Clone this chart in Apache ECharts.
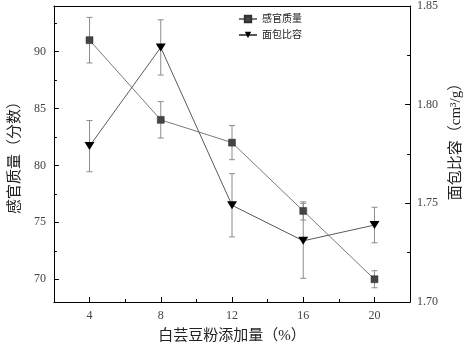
<!DOCTYPE html>
<html>
<head>
<meta charset="utf-8">
<script src="https://cdn.jsdelivr.net/npm/echarts@6/dist/echarts.min.js"></script>
<style>
  html, body { margin: 0; padding: 0; background: #fff; }
  #main { width: 472px; height: 349px; }
</style>
</head>
<body>
<div id="main"></div>
<script>
// white kidney bean flour addition (%)
const additions = [4, 8, 12, 16, 20];
const sensoryScore = [91, 84, 82, 76, 70];
const sensoryErr = [2, 1.6, 1.5, 0.8, 0.75];
const specificVolume = [1.779, 1.829, 1.749, 1.731, 1.739];
const volumeErr = [0.013, 0.014, 0.016, 0.019, 0.009];

const xMajor = [4, 8, 12, 16, 20];
const xMinor = [6, 10, 14, 18];
const leftMajor = [70, 75, 80, 85, 90];
const leftMinor = [72.5, 77.5, 82.5, 87.5, 92.5];
const rightMajor = [1.7, 1.75, 1.8, 1.85];
const rightMinor = [1.725, 1.775, 1.825];

const serif = "'Liberation Serif', 'Noto Sans CJK SC', serif";

const chart = echarts.init(document.getElementById("main"));

const pair = (xs, ys) => xs.map((x, i) => [x, ys[i]]);
const errData = (xs, ys, es) => xs.map((x, i) => [x, ys[i] - es[i], ys[i] + es[i]]);

function renderErr(params, api) {
  const x = api.value(0);
  const top = api.coord([x, api.value(2)]);
  const bot = api.coord([x, api.value(1)]);
  const cap = 3;
  const style = { stroke: "#8c8c8c", lineWidth: 1 };
  return {
    type: "group",
    children: [
      { type: "line", shape: { x1: top[0], y1: top[1], x2: bot[0], y2: bot[1] }, style },
      { type: "line", shape: { x1: top[0] - cap, y1: top[1], x2: top[0] + cap, y2: top[1] }, style },
      { type: "line", shape: { x1: bot[0] - cap, y1: bot[1], x2: bot[0] + cap, y2: bot[1] }, style },
    ],
  };
}

const tri = "path://M0,0 L10,0 L5,8 Z";
const black = { color: "#000", width: 1 };
const tickLabel = { color: "#444", fontSize: 12, fontFamily: serif };
const nameStyle = { fontFamily: serif, fontSize: 15, color: "#222" };

const option = {
  animation: false,
  textStyle: { fontFamily: serif },
  grid: { left: 43, right: 56, top: 5, bottom: 43 },
  legend: {
    orient: "vertical",
    left: 233,
    top: 9,
    itemWidth: 18,
    itemHeight: 8,
    itemGap: 6,
    textStyle: { fontFamily: serif, fontSize: 10, color: "#222" },
    data: ["感官质量", "面包比容"],
  },
  xAxis: [
    {
      type: "value",
      min: 2,
      max: 22,
      position: "bottom",
      name: "白芸豆粉添加量（%）",
      nameLocation: "middle",
      nameGap: 27,
      nameTextStyle: nameStyle,
      axisLine: { lineStyle: black },
      axisTick: { inside: true, length: 5, lineStyle: black, customValues: xMajor },
      axisLabel: { ...tickLabel, customValues: xMajor, margin: 8 },
      splitLine: { show: false },
    },
    {
      type: "value",
      min: 2,
      max: 22,
      position: "bottom",
      axisLine: { show: false },
      axisTick: { inside: true, length: 3, lineStyle: black, customValues: xMinor },
      axisLabel: { show: false },
      splitLine: { show: false },
    },
    {
      type: "value",
      min: 2,
      max: 22,
      position: "top",
      axisLine: { lineStyle: black },
      axisTick: { show: false },
      axisLabel: { show: false },
      splitLine: { show: false },
    },
  ],
  yAxis: [
    {
      type: "value",
      min: 68,
      max: 94,
      position: "left",
      name: "感官质量（分数）",
      nameLocation: "middle",
      nameRotate: 90,
      nameGap: 24,
      nameTextStyle: nameStyle,
      axisLine: { lineStyle: black },
      axisTick: { inside: true, length: 5, lineStyle: black, customValues: leftMajor },
      axisLabel: { ...tickLabel, customValues: leftMajor, margin: 8 },
      splitLine: { show: false },
    },
    {
      type: "value",
      min: 1.7,
      max: 1.85,
      position: "right",
      name: "面包比容（cm³/g）",
      nameLocation: "middle",
      nameRotate: 90,
      nameGap: 37,
      nameTextStyle: { ...nameStyle, padding: [0, 0, 0, 32] },
      axisLine: { lineStyle: black },
      axisTick: { inside: true, length: 5, lineStyle: black, customValues: rightMajor },
      axisLabel: {
        ...tickLabel,
        customValues: rightMajor,
        margin: 7,
        formatter: (v) => v.toFixed(2),
      },
      splitLine: { show: false },
    },
    {
      type: "value",
      min: 68,
      max: 94,
      position: "left",
      axisLine: { show: false },
      axisTick: { inside: true, length: 3, lineStyle: black, customValues: leftMinor },
      axisLabel: { show: false },
      splitLine: { show: false },
    },
    {
      type: "value",
      min: 1.7,
      max: 1.85,
      position: "right",
      axisLine: { show: false },
      axisTick: { inside: true, length: 3, lineStyle: black, customValues: rightMinor },
      axisLabel: { show: false },
      splitLine: { show: false },
    },
  ],
  series: [
    {
      type: "custom",
      name: "感官质量误差",
      xAxisIndex: 0,
      yAxisIndex: 0,
      renderItem: renderErr,
      encode: { x: 0, y: [1, 2] },
      data: errData(additions, sensoryScore, sensoryErr),
      z: 1,
    },
    {
      type: "custom",
      name: "面包比容误差",
      xAxisIndex: 0,
      yAxisIndex: 1,
      renderItem: renderErr,
      encode: { x: 0, y: [1, 2] },
      data: errData(additions, specificVolume, volumeErr),
      z: 1,
    },
    {
      type: "line",
      name: "感官质量",
      xAxisIndex: 0,
      yAxisIndex: 0,
      data: pair(additions, sensoryScore),
      symbol: "rect",
      symbolSize: 7,
      lineStyle: { color: "#7a7a7a", width: 1 },
      itemStyle: { color: "#444", borderColor: "#333", borderWidth: 0.5 },
      z: 3,
    },
    {
      type: "line",
      name: "面包比容",
      xAxisIndex: 0,
      yAxisIndex: 1,
      data: pair(additions, specificVolume),
      symbol: tri,
      symbolSize: [10, 8],
      lineStyle: { color: "#5a5a5a", width: 1 },
      itemStyle: { color: "#000" },
      z: 3,
    },
  ],
};

chart.setOption(option);
</script>
</body>
</html>
